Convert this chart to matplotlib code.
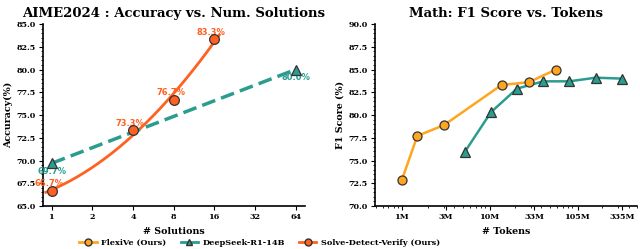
import numpy as np
import matplotlib
matplotlib.use("Agg")
import matplotlib.pyplot as plt
from matplotlib.ticker import AutoMinorLocator, FixedLocator, NullFormatter

plt.rcParams['font.family'] = 'DejaVu Serif'
plt.rcParams['font.weight'] = 'bold'

# left panel: AIME2024
sdv_n = [1, 4, 8, 16]
sdv_acc = [66.7, 73.3, 76.7, 83.3]
ds_n = [1, 64]
ds_acc = [69.7, 80.0]
n_ticks = [1, 2, 4, 8, 16, 32, 64]

# right panel: Math F1 vs tokens (in millions)
flex_tok = [1.0, 1.5, 3.05, 13.9, 28.5, 59.0]
flex_f1 = [72.9, 77.7, 78.9, 83.3, 83.6, 85.0]
ds_tok = [5.23, 10.5, 20.9, 41.9, 83.8, 167.5, 335.0]
ds_f1 = [75.9, 80.3, 82.9, 83.7, 83.7, 84.1, 84.0]
tok_ticks = [1.0, 3.2, 10.3, 32.8, 105.3, 335.0]
tok_labels = ['1M', '3M', '10M', '33M', '105M', '335M']

c_flex = '#FFA51F'
c_ds = '#2A9D8F'
c_sdv = '#FF6121'

fig = plt.figure(figsize=(6.4, 2.49), dpi=100)
ax1 = fig.add_axes([43/640, 1 - 206/249, 262/640, 182/249])
ax2 = fig.add_axes([375/640, 1 - 206/249, 262/640, 182/249])

# smooth fit for Solve-Detect-Verify
lx = np.log2(sdv_n)
coef = np.polyfit(lx, sdv_acc, 2)
xs = np.linspace(-0.15, 4.12, 200)
ax1.plot(2 ** xs, np.polyval(coef, xs), color=c_sdv, lw=2, zorder=2)
ax1.plot(sdv_n, sdv_acc, 'o', color=c_sdv, mec='#333333', mew=0.9, ms=7, zorder=4)
ax1.plot(ds_n, ds_acc, '--', color=c_ds, lw=2.5, dashes=(4, 1.8), zorder=2)
ax1.plot(ds_n, ds_acc, '^', color=c_ds, mec='#333333', mew=0.9, ms=7, zorder=4)

lab_kw = dict(fontsize=6, fontweight='bold', family='DejaVu Sans', ha='center')
for x, y in zip(sdv_n, sdv_acc):
    ax1.text(x * 0.95, y + 0.5, f'{y:.1f}%', color=c_sdv, **lab_kw)
for x, y in zip(ds_n, ds_acc):
    ax1.text(x * 1.0, y - 1.2, f'{y:.1f}%', color=c_ds, **lab_kw)

ax1.set_xscale('log', base=2)
ax1.set_xlim(0.86, 75)
ax1.set_ylim(65, 85)
ax1.xaxis.set_major_locator(FixedLocator(n_ticks))
ax1.set_xticklabels([str(n) for n in n_ticks])
ax1.xaxis.set_minor_formatter(NullFormatter())
ax1.xaxis.set_minor_locator(FixedLocator([]))
ax1.set_yticks(np.arange(65, 85.1, 2.5))
ax1.set_yticklabels([f'{v:.1f}' for v in np.arange(65, 85.1, 2.5)])
ax1.set_title('AIME2024 : Accuracy vs. Num. Solutions', fontsize=9.5, fontweight='bold', pad=5)
ax1.set_xlabel('# Solutions', fontsize=6.8, fontweight='bold', labelpad=4)
ax1.set_ylabel('Accuracy(%)', fontsize=6.8, fontweight='bold', labelpad=3)

ax2.plot(np.array(flex_tok) * 1e6, flex_f1, '-o', color=c_flex, lw=1.8, mec='#333333', mew=0.9, ms=6.5, zorder=3)
ax2.plot(np.array(ds_tok) * 1e6, ds_f1, '-^', color=c_ds, lw=1.8, mec='#333333', mew=0.9, ms=6.5, zorder=2)
ax2.set_xscale('log')
ax2.set_xlim(0.49e6, 5.0e8)
ax2.set_ylim(70, 90)
ax2.xaxis.set_major_locator(FixedLocator([t * 1e6 for t in tok_ticks]))
ax2.set_xticklabels(tok_labels)
ax2.xaxis.set_minor_formatter(NullFormatter())
ax2.set_yticks(np.arange(70, 90.1, 2.5))
ax2.set_yticklabels([f'{v:.1f}' for v in np.arange(70, 90.1, 2.5)])
ax2.set_title('Math: F1 Score vs. Tokens', fontsize=9.5, fontweight='bold', pad=5)
ax2.set_xlabel('# Tokens', fontsize=6.8, fontweight='bold', labelpad=4)
ax2.set_ylabel('F1 Score (%)', fontsize=6.8, fontweight='bold', labelpad=3)

for ax in (ax1, ax2):
    ax.spines['top'].set_visible(False)
    ax.spines['right'].set_visible(False)
    ax.spines['left'].set_linewidth(1.2)
    ax.spines['bottom'].set_linewidth(1.2)
    ax.yaxis.set_minor_locator(AutoMinorLocator(5))
    ax.tick_params(labelsize=5.8, length=3, pad=2)
    ax.tick_params(which='minor', length=1.5)
    for t in ax.get_xticklabels() + ax.get_yticklabels():
        t.set_fontweight('bold')

h1 = plt.Line2D([], [], color=c_flex, lw=2, marker='o', mec='#333333', ms=5)
h2 = plt.Line2D([], [], color=c_ds, lw=2, marker='^', mec='#333333', ms=5)
h3 = plt.Line2D([], [], color=c_sdv, lw=2, marker='o', mec='#333333', ms=5)
fig.legend([h1, h2, h3], ['FlexiVe (Ours)', 'DeepSeek-R1-14B', 'Solve-Detect-Verify (Ours)'],
           loc='lower center', bbox_to_anchor=(0.406, 0.0), ncol=3, frameon=False,
           prop={'size': 5.9, 'weight': 'bold'}, handlelength=2.1, handletextpad=0.6,
           columnspacing=1.7, borderpad=0.15, borderaxespad=0.1)

fig.savefig('out.png', dpi=100)
